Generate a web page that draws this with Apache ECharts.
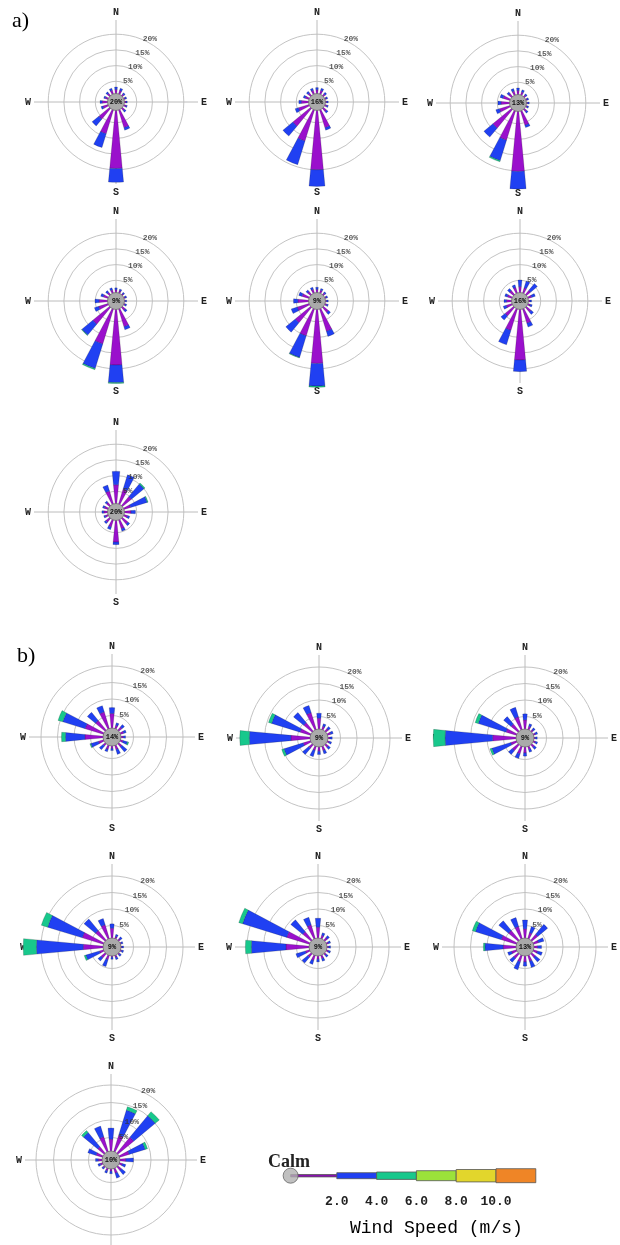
<!DOCTYPE html>
<html>
<head>
<meta charset="utf-8">
<script src="https://cdn.jsdelivr.net/npm/echarts@6/dist/echarts.min.js"></script>
<style>html,body{margin:0;padding:0;background:#fff}#c{width:620px;height:1245px}</style>
</head>
<body>
<div id="c"></div>
<script>
// ---------- DATA ----------
const DIRS = ['N','NNE','NE','ENE','E','ESE','SE','SSE','S','SSW','SW','WSW','W','WNW','NW','NNW'];
const CARDINALS = ['N','E','S','W'];
const RING_TICKS = [5, 10, 15, 20];
const SPEED_BINS = ['0.5-2.0', '2.0-4.0', '4.0-6.0'];
const CALM_A = [20, 16, 13, 9, 9, 16, 20];
const CALM_B = [14, 9, 9, 9, 9, 13, 10];

// panel a) frequencies (%) per direction, per speed bin
const a1_lt2 = [2.4,2.2,1.7,1.5,1.6,1.8,2.0,7.0,19.6,9.0,5.5,2.8,2.8,2.0,2.0,2.3];
const a1_2to4 = [0.8,0.8,0.5,0.5,0.4,0.4,0.6,0.8,4.4,4.6,2.8,0.6,0.7,0.5,0.6,0.7];
const a1_4to6 = [0,0,0,0,0,0,0,0,0,0,0,0,0,0,0,0];

const a2_lt2 = [2.3,2.3,1.8,1.5,1.5,1.7,2.4,7.0,20.0,11.4,8.4,4.6,3.4,2.3,2.1,2.3];
const a2_2to4 = [0.7,0.7,0.6,0.5,0.5,0.5,0.6,0.8,5.3,7.9,4.1,1.1,0.8,0.7,0.7,0.7];
const a2_4to6 = [0,0,0,0,0,0,0,0,0,0,0,0,0,0,0,0];

const a3_lt2 = [2.4,2.1,1.7,1.5,1.5,1.5,2.0,5.8,20.2,10.8,8.8,4.6,3.8,3.4,2.3,2.4];
const a3_2to4 = [0.8,0.7,0.5,0.5,0.5,0.5,0.6,0.8,5.6,6.8,3.7,1.2,1.0,1.0,0.7,0.8];
const a3_4to6 = [0,0,0,0,0,0,0,0,0,0.4,0,0,0,0,0,0];

const a4_lt2 = [2.0,1.8,1.5,1.5,1.4,1.5,2.3,7.0,18.8,12.7,8.0,4.2,3.8,2.7,2.0,2.1];
const a4_2to4 = [0.6,0.6,0.5,0.5,0.4,0.5,0.7,1.0,5.6,8.2,4.5,1.4,1.3,0.8,0.7,0.7];
const a4_4to6 = [0,0,0,0,0,0,0,0,0.3,0.4,0.2,0,0,0,0,0];

const a5_lt2 = [2.1,2.0,1.7,1.5,1.5,1.7,3.2,8.5,18.3,10.0,7.4,5.0,4.5,3.4,2.3,2.3];
const a5_2to4 = [0.7,0.6,0.5,0.5,0.5,0.5,0.8,1.7,7.2,7.2,3.9,2.0,1.4,1.1,0.7,0.7];
const a5_4to6 = [0,0,0,0,0,0,0,0,0.4,0.2,0,0,0,0,0,0];

const a6_lt2 = [3.0,2.8,2.8,2.3,1.6,1.9,3.0,5.8,17.2,8.2,4.6,3.0,2.7,2.7,2.7,2.9];
const a6_2to4 = [2.1,2.3,2.8,1.2,0.5,0.6,1.0,1.3,3.7,4.8,1.7,1.0,0.8,0.8,0.9,0.9];
const a6_4to6 = [0,0,0,0,0,0,0,0,0,0,0,0,0,0,0,0];

const a7_lt2 = [7.1,6.1,4.8,3.3,3.2,2.3,3.4,4.0,8.0,3.4,2.6,2.0,2.3,2.3,2.4,5.4];
const a7_2to4 = [4.3,4.7,5.2,5.5,1.4,0.7,0.7,0.8,0.8,0.9,0.7,0.5,0.6,0.6,0.6,2.0];
const a7_4to6 = [0,0,0.4,0.3,0,0,0,0,0,0,0,0,0,0,0,0];

// panel b)
const b1_lt2 = [5.6,2.2,2.4,2.2,1.9,2.0,2.4,2.5,2.0,2.4,2.0,2.8,6.7,7.0,5.0,6.4];
const b1_2to4 = [1.8,0.8,1.0,0.8,0.7,1.4,2.0,1.5,0.6,0.8,1.5,2.4,5.9,7.1,3.2,2.0];
const b1_4to6 = [0,0,0,0,0,0.4,0,0,0,0,0,0.3,1.2,1.5,0,0];

const b2_lt2 = [4.5,2.2,2.2,2.2,1.8,1.8,2.2,2.5,2.5,2.4,2.5,3.5,7.0,4.5,4.5,6.5];
const b2_2to4 = [1.5,0.8,0.8,0.8,0.7,0.7,0.8,1.0,1.0,2.0,2.5,6.1,12.6,9.0,4.0,2.3];
const b2_4to6 = [0,0,0,0,0,0,0,0,0,0,0,0.7,2.9,1.0,0,0];

const b3_lt2 = [4.0,2.2,1.8,1.8,1.6,1.8,2.2,2.2,3.0,3.5,3.5,3.0,8.3,4.5,4.0,5.2];
const b3_2to4 = [1.8,0.8,0.7,0.7,0.6,0.7,0.8,0.8,1.0,1.5,1.5,6.0,14.4,8.8,2.9,3.0];
const b3_4to6 = [0,0,0,0,0,0,0,0,0,0,0,0.6,3.6,1.0,0,0];

const b4_lt2 = [4.2,1.8,1.8,1.5,1.5,1.6,1.6,1.8,1.6,2.5,2.8,2.5,7.2,7.9,5.0,5.5];
const b4_2to4 = [1.3,0.7,0.7,0.5,0.5,0.6,0.6,0.7,0.6,2.2,1.2,4.3,14.2,11.0,4.5,2.0];
const b4_4to6 = [0,0,0,0,0,0,0,0,0,0,0,0.5,4.0,2.0,0,0];

const b5_lt2 = [4.5,2.2,2.2,1.8,1.7,1.8,1.8,2.2,2.2,2.8,2.5,2.5,8.2,8.4,4.5,5.5];
const b5_2to4 = [2.7,0.8,0.8,0.7,0.6,0.7,0.7,0.8,0.8,1.2,2.3,3.0,10.5,14.0,4.7,2.4];
const b5_4to6 = [0,0,0,0,0,0,0,0,0,0,0,0,1.8,1.2,0,0];

const b6_lt2 = [4.0,3.0,3.5,2.8,2.3,2.5,2.6,3.0,3.0,3.2,3.0,2.8,5.1,6.0,5.0,5.0];
const b6_2to4 = [2.7,2.0,3.9,1.7,1.2,1.5,1.8,2.0,1.3,2.5,1.5,1.2,5.5,8.2,3.8,2.8];
const b6_4to6 = [0,0,0,0,0,0,0,0,0,0,0,0,0.5,1.0,0,0];

const b7_lt2 = [4.5,6.0,7.0,4.0,2.8,2.0,2.5,2.5,1.8,1.8,1.5,1.8,2.2,3.0,3.5,5.5];
const b7_2to4 = [3.2,7.5,8.0,4.8,2.2,1.0,1.5,1.5,0.7,0.7,0.5,0.7,0.8,2.5,5.3,3.2];
const b7_4to6 = [0,1.0,1.5,0.7,0,0,0,0,0,0,0,0,0,0,0.7,0];

// legend: wind-speed class edges (m/s) and tick labels
const LEGEND_EDGES = [-0.32, 2, 4, 6, 8, 10, 12];
const LEGEND_TICKS = [2, 4, 6, 8, 10];

// ---------- LAYOUT / STYLE ----------
const ROSES = [
  {p:a1_lt2, b:a1_2to4, g:a1_4to6, calm:CALM_A[0]},
  {p:a2_lt2, b:a2_2to4, g:a2_4to6, calm:CALM_A[1]},
  {p:a3_lt2, b:a3_2to4, g:a3_4to6, calm:CALM_A[2]},
  {p:a4_lt2, b:a4_2to4, g:a4_4to6, calm:CALM_A[3]},
  {p:a5_lt2, b:a5_2to4, g:a5_4to6, calm:CALM_A[4]},
  {p:a6_lt2, b:a6_2to4, g:a6_4to6, calm:CALM_A[5]},
  {p:a7_lt2, b:a7_2to4, g:a7_4to6, calm:CALM_A[6]},
  {p:b1_lt2, b:b1_2to4, g:b1_4to6, calm:CALM_B[0]},
  {p:b2_lt2, b:b2_2to4, g:b2_4to6, calm:CALM_B[1]},
  {p:b3_lt2, b:b3_2to4, g:b3_4to6, calm:CALM_B[2]},
  {p:b4_lt2, b:b4_2to4, g:b4_4to6, calm:CALM_B[3]},
  {p:b5_lt2, b:b5_2to4, g:b5_4to6, calm:CALM_B[4]},
  {p:b6_lt2, b:b6_2to4, g:b6_4to6, calm:CALM_B[5]},
  {p:b7_lt2, b:b7_2to4, g:b7_4to6, calm:CALM_B[6]}
];
// [cx, cy, radius of 20% ring, outer radius of compass lines, calm radius]
const LAYOUT = [
  [116,102,67.8,82,8.5],[317,102,67.8,82,8.5],[518,103,67.8,82,8.5],
  [116,301,67.8,82,8.5],[317,301,67.8,82,8.5],[520,301,67.8,82,8.5],
  [116,512,67.8,82,8.5],
  [112,737,71,83,9],[319,738,71,83,9],[525,738,71,83,9],
  [112,947,71,83,9],[318,947,71,83,9],[525,947,71,83,9],
  [111,1160,75,86,9]
];
const INNER = 5;
const BIN_COLORS = ['#9a10cc', '#2040f2', '#18c88c'];
const LEGEND_COLORS = ['#8a10b0', '#2040f2', '#18c88c', '#9be23a', '#e2d62c', '#ef8526'];
const LEGEND_HALF = [1.2, 3, 3.7, 5, 6.2, 7];
const RING = '#c4c4c4';
const CROSS = '#bcbcbc';
const T = 'rgba(0,0,0,0)';
const MONO = 'Liberation Mono, DejaVu Sans Mono, monospace';
const SERIF = 'Liberation Serif, DejaVu Serif, serif';

const polar = [], angleAxis = [], radiusAxis = [], series = [];

ROSES.forEach((r, i) => {
  const [cx, cy, R20, Rout, Rc] = LAYOUT[i];
  const k = (R20 - INNER) / 20;
  const M = (Rout - INNER) / k;
  const ringIdx = 2 * i, barIdx = 2 * i + 1;

  // rings
  polar.push({center: [cx, cy], radius: [INNER, R20]});
  angleAxis.push({polarIndex: ringIdx, type: 'value', min: 0, max: 360, startAngle: 90,
    axisLine: {show: false}, axisTick: {show: false}, axisLabel: {show: false}, splitLine: {show: false}});
  radiusAxis.push({polarIndex: ringIdx, type: 'value', min: 0, max: 20, interval: 5,
    axisLine: {show: false}, axisTick: {show: false}, axisLabel: {show: false},
    splitLine: {show: true, lineStyle: {color: [T, RING, RING, RING, RING], width: 1}}});
  series.push({type: 'scatter', coordinateSystem: 'polar', polarIndex: ringIdx, silent: true,
    symbolSize: 0, data: RING_TICKS.map(v => [v, 28]),
    label: {show: true, position: 'inside', offset: [2, -3], formatter: p => RING_TICKS[p.dataIndex] + '%',
      fontFamily: MONO, fontSize: 8, fontWeight: 'bold', color: '#333'}, z: 3});

  // compass + petals
  polar.push({center: [cx, cy], radius: [INNER, Rout]});
  angleAxis.push({polarIndex: barIdx, type: 'category', data: DIRS, boundaryGap: false,
    startAngle: 90, clockwise: true,
    axisLine: {show: false}, axisTick: {show: false, interval: 0},
    axisLabel: {show: true, interval: 0, margin: 3, formatter: v => CARDINALS.includes(v) ? v : '',
      fontFamily: MONO, fontSize: 10, fontWeight: 'bold', color: '#222'},
    splitLine: {show: true, interval: 0, lineStyle: {color: [CROSS, T, T, T], width: 1}}});
  radiusAxis.push({polarIndex: barIdx, type: 'value', min: 0, max: M, show: false,
    axisLine: {show: false}, axisTick: {show: false}, axisLabel: {show: false}, splitLine: {show: false}});
  [r.p, r.b, r.g].forEach((arr, j) => {
    series.push({type: 'bar', name: SPEED_BINS[j], coordinateSystem: 'polar', polarIndex: barIdx,
      stack: 'rose' + i, barWidth: '48%', clip: false, silent: true,
      data: arr.map(v => v > 0 ? v : '-'),
      itemStyle: {color: BIN_COLORS[j], borderColor: 'rgba(0,0,0,0.45)', borderWidth: 0.4}, z: 2});
  });

  // calm circle
  series.push({type: 'pie', center: [cx, cy], radius: Rc, silent: true, z: 6,
    data: [{value: 1}], labelLine: {show: false},
    itemStyle: {color: '#aaaaaa', borderColor: '#666', borderWidth: 0.7},
    label: {show: true, position: 'center', formatter: r.calm + '%', fontFamily: MONO,
      fontSize: 7, fontWeight: 'bold', color: '#111'}});
});

// legend scale
const legendData = LEGEND_HALF.map((h, i) => [LEGEND_EDGES[i], LEGEND_EDGES[i + 1], h]);
series.push({type: 'custom', xAxisIndex: 0, yAxisIndex: 0, silent: true, z: 2,
  data: legendData,
  renderItem: (params, api) => {
    const lo = api.value(0), hi = api.value(1), h = api.value(2);
    const p0 = api.coord([lo, h]);
    const p1 = api.coord([hi, -h]);
    return {type: 'rect', shape: {x: p0[0], y: p0[1], width: p1[0] - p0[0], height: p1[1] - p0[1]},
      style: {fill: LEGEND_COLORS[params.dataIndex], stroke: '#555', lineWidth: 0.8}};
  }});
series.push({type: 'scatter', xAxisIndex: 0, yAxisIndex: 0, silent: true, z: 5,
  data: [[LEGEND_EDGES[0], 0]], symbolSize: 15,
  itemStyle: {color: '#b0b0b0', borderColor: '#666', borderWidth: 1}});

const option = {
  animation: false,
  backgroundColor: '#fff',
  title: [
    {text: 'a)', left: 7, top: 5, textStyle: {fontFamily: SERIF, fontSize: 22, fontWeight: 'normal', color: '#000'}},
    {text: 'b)', left: 12, top: 640, textStyle: {fontFamily: SERIF, fontSize: 22, fontWeight: 'normal', color: '#000'}},
    {text: 'Calm', left: 263, top: 1148, textStyle: {fontFamily: SERIF, fontSize: 18, fontWeight: 'bold', color: '#222'}},
    {text: 'Wind Speed (m/s)', left: 345, top: 1214, textStyle: {fontFamily: MONO, fontSize: 18, fontWeight: 'normal', color: '#000'}}
  ],
  polar, angleAxis, radiusAxis,
  grid: [{left: 257.2, top: 1160.7, width: 278.6, height: 30}],
  xAxis: [{gridIndex: 0, type: 'value', min: -2, max: 12, interval: 2,
    axisLine: {show: false}, axisTick: {show: false}, splitLine: {show: false},
    axisLabel: {margin: 5, formatter: v => LEGEND_TICKS.includes(v) ? v.toFixed(1) : '',
      fontFamily: MONO, fontSize: 13, fontWeight: 'bold', color: '#222'}}],
  yAxis: [{gridIndex: 0, type: 'value', min: -15, max: 15, show: false}],
  series
};

const chart = echarts.init(document.getElementById('c'), null, {renderer: 'canvas'});
chart.setOption(option);
</script>
</body>
</html>
